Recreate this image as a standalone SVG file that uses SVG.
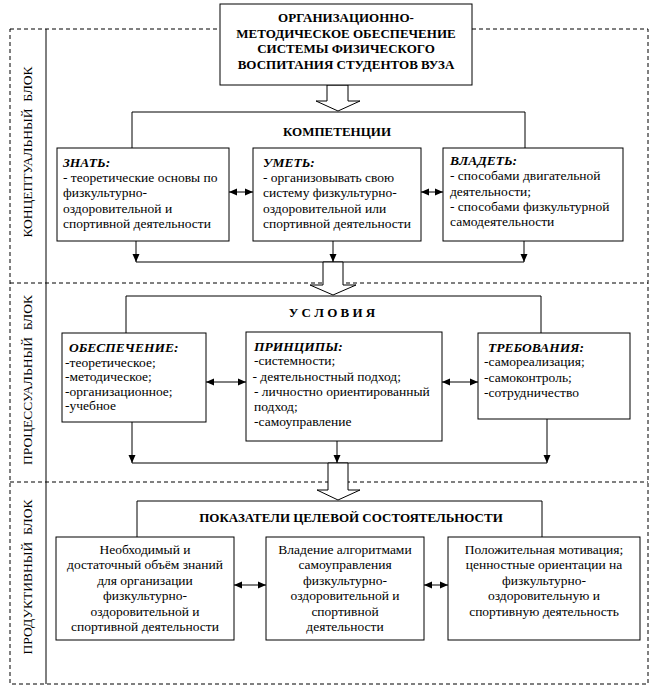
<svg xmlns="http://www.w3.org/2000/svg" width="657" height="693" viewBox="0 0 657 693" font-family="'Liberation Serif', 'Times New Roman', serif">
<defs>
<style>
.bg{fill:#fff}
.frame{fill:none;stroke:#000;stroke-width:1;stroke-dasharray:4 3}
.solid{fill:none;stroke:#000;stroke-width:1}
.box{fill:#fff;stroke:#000;stroke-width:1}
.hollow{fill:#fff;stroke:#000;stroke-width:1;stroke-linejoin:miter}
.arr{fill:none;stroke:#000;stroke-width:1;marker-end:url(#ah)}
.darr{fill:none;stroke:#000;stroke-width:1;marker-start:url(#ah);marker-end:url(#ah)}
text{font-family:"Liberation Serif","Times New Roman",serif;fill:#000}
.t{font-size:13.5px}
.h{font-size:13.5px;font-weight:bold;font-style:italic}
.b{font-size:13px;font-weight:bold}
.c{text-anchor:middle}
.lbl{font-size:13.5px;text-anchor:middle;white-space:pre}
</style>
<marker id="ah" viewBox="0 0 8 8" refX="8" refY="4" markerWidth="8" markerHeight="8" markerUnits="userSpaceOnUse" orient="auto-start-reverse">
<path d="M0,0.5 L8,4 L0,7.5 z" fill="#000"/>
</marker>
</defs>
<rect class="bg" x="0" y="0" width="657" height="693"/>

<g id="blocks">
<rect class="frame" x="10" y="29" width="638" height="655"/>
<line class="frame" x1="10" y1="283" x2="648" y2="283"/>
<line class="frame" x1="10" y1="482" x2="648" y2="482"/>
<line class="solid" x1="46" y1="29" x2="46" y2="684"/>
<text class="lbl" transform="translate(31.5,152) rotate(-90)">КОНЦЕПТУАЛЬНЫЙ  БЛОК</text>
<text class="lbl" transform="translate(31.5,380) rotate(-90)">ПРОЦЕССУАЛЬНЫЙ  БЛОК</text>
<text class="lbl" transform="translate(31.5,577) rotate(-90)">ПРОДУКТИВНЫЙ  БЛОК</text>
</g>

<g id="connectors">
<polyline class="solid" points="132,148 132,112 525,112 525,148"/>
<line class="darr" x1="229" y1="192" x2="253" y2="192"/>
<line class="darr" x1="421" y1="192" x2="443" y2="192"/>
<line class="arr" x1="136" y1="241" x2="136" y2="262"/>
<line class="arr" x1="333" y1="241" x2="333" y2="262"/>
<line class="arr" x1="524" y1="241" x2="524" y2="262"/>
<line class="solid" x1="136" y1="262" x2="524" y2="262"/>
<polyline class="solid" points="126,333 126,296 541,296 541,333"/>
<line class="darr" x1="206" y1="382" x2="246" y2="382"/>
<line class="darr" x1="442" y1="382" x2="478" y2="382"/>
<line class="arr" x1="132" y1="422" x2="132" y2="463"/>
<line class="arr" x1="337" y1="441" x2="337" y2="463"/>
<line class="arr" x1="547" y1="419" x2="547" y2="463"/>
<line class="solid" x1="132" y1="463" x2="547" y2="463"/>
<polyline class="solid" points="137,537 137,501 542,501 542,537"/>
<line class="darr" x1="234" y1="585" x2="266" y2="585"/>
<line class="darr" x1="424" y1="585" x2="448" y2="585"/>
<polygon class="hollow" points="327,85 348,85 348,101 360,101 338,111 316,101 327,101"/>
<polygon class="hollow" points="323,262 343,262 343,285 356,285 333,295 310,285 323,285"/>
<polygon class="hollow" points="328,463 348,463 348,490 360,490 338,500 317,490 328,490"/>
</g>

<g id="title">
<rect class="box" x="220" y="4" width="252" height="81"/>
<text class="b c" x="346" y="22">ОРГАНИЗАЦИОННО-</text>
<text class="b c" x="346" y="37.5">МЕТОДИЧЕСКОЕ ОБЕСПЕЧЕНИЕ</text>
<text class="b c" x="346" y="53">СИСТЕМЫ ФИЗИЧЕСКОГО</text>
<text class="b c" x="346" y="68.5">ВОСПИТАНИЯ СТУДЕНТОВ ВУЗА</text>
</g>

<g id="competencies">
<text class="b c" x="337" y="136">КОМПЕТЕНЦИИ</text>
</g>

<g id="znat">
<rect class="box" x="57" y="148" width="172" height="93"/>
<text class="h" x="63" y="167">ЗНАТЬ:</text>
<text class="t" x="63" y="181.5">- теоретические основы по</text>
<text class="t" x="63" y="197">физкультурно-</text>
<text class="t" x="63" y="212.5">оздоровительной и</text>
<text class="t" x="63" y="228">спортивной деятельности</text>
</g>

<g id="umet">
<rect class="box" x="253" y="148" width="168" height="93"/>
<text class="h" x="263" y="167">УМЕТЬ:</text>
<text class="t" x="263" y="181.5">- организовывать свою</text>
<text class="t" x="263" y="197">систему физкультурно-</text>
<text class="t" x="263" y="212.5">оздоровительной или</text>
<text class="t" x="263" y="228">спортивной деятельности</text>
</g>

<g id="vladet">
<rect class="box" x="443" y="148" width="180" height="93"/>
<text class="h" x="450" y="165">ВЛАДЕТЬ:</text>
<text class="t" x="450" y="180">- способами двигательной</text>
<text class="t" x="450" y="195.5">деятельности;</text>
<text class="t" x="450" y="211">- способами физкультурной</text>
<text class="t" x="450" y="226">самодеятельности</text>
</g>

<g id="conditions">
<text class="b c" x="332" y="316.5">У С Л О В И Я</text>
</g>

<g id="obespechenie">
<rect class="box" x="62" y="333" width="144" height="89"/>
<text class="h" x="69" y="352">ОБЕСПЕЧЕНИЕ:</text>
<text class="t" x="65" y="366.5">-теоретическое;</text>
<text class="t" x="65" y="381">-методическое;</text>
<text class="t" x="65" y="395.5">-организационное;</text>
<text class="t" x="65" y="410">-учебное</text>
</g>

<g id="principy">
<rect class="box" x="246" y="332" width="196" height="109"/>
<text class="h" x="254" y="350.5">ПРИНЦИПЫ:</text>
<text class="t" x="254" y="365">-системности;</text>
<text class="t" x="252.5" y="380.5">- деятельностный подход;</text>
<text class="t" x="254" y="396">- личностно ориентированный</text>
<text class="t" x="254" y="411">подход;</text>
<text class="t" x="254" y="426">-самоуправление</text>
</g>

<g id="trebovaniya">
<rect class="box" x="478" y="333" width="152" height="86"/>
<text class="h" x="488" y="351.5">ТРЕБОВАНИЯ:</text>
<text class="t" x="484" y="366">-самореализация;</text>
<text class="t" x="484" y="381.5">-самоконтроль;</text>
<text class="t" x="484" y="397">-сотрудничество</text>
</g>

<g id="indicators">
<text class="b c" x="351" y="522">ПОКАЗАТЕЛИ ЦЕЛЕВОЙ СОСТОЯТЕЛЬНОСТИ</text>
</g>

<g id="znaniya">
<rect class="box" x="56" y="537" width="178" height="103"/>
<text class="t c" x="145" y="553.5">Необходимый и</text>
<text class="t c" x="145" y="569">достаточный объём знаний</text>
<text class="t c" x="145" y="584.5">для организации</text>
<text class="t c" x="145" y="600">физкультурно-</text>
<text class="t c" x="145" y="615.5">оздоровительной и</text>
<text class="t c" x="145" y="631">спортивной деятельности</text>
</g>

<g id="algoritmy">
<rect class="box" x="266" y="537" width="158" height="103"/>
<text class="t c" x="345" y="553.5">Владение алгоритмами</text>
<text class="t c" x="345" y="569">самоуправления</text>
<text class="t c" x="345" y="584.5">физкультурно-</text>
<text class="t c" x="345" y="600">оздоровительной и</text>
<text class="t c" x="345" y="615.5">спортивной</text>
<text class="t c" x="345" y="631">деятельности</text>
</g>

<g id="motivaciya">
<rect class="box" x="448" y="537" width="192" height="103"/>
<text class="t c" x="544" y="553.5">Положительная мотивация;</text>
<text class="t c" x="544" y="569">ценностные ориентации на</text>
<text class="t c" x="544" y="584.5">физкультурно-</text>
<text class="t c" x="544" y="600">оздоровительную и</text>
<text class="t c" x="544" y="615.5">спортивную деятельность</text>
</g>
</svg>
